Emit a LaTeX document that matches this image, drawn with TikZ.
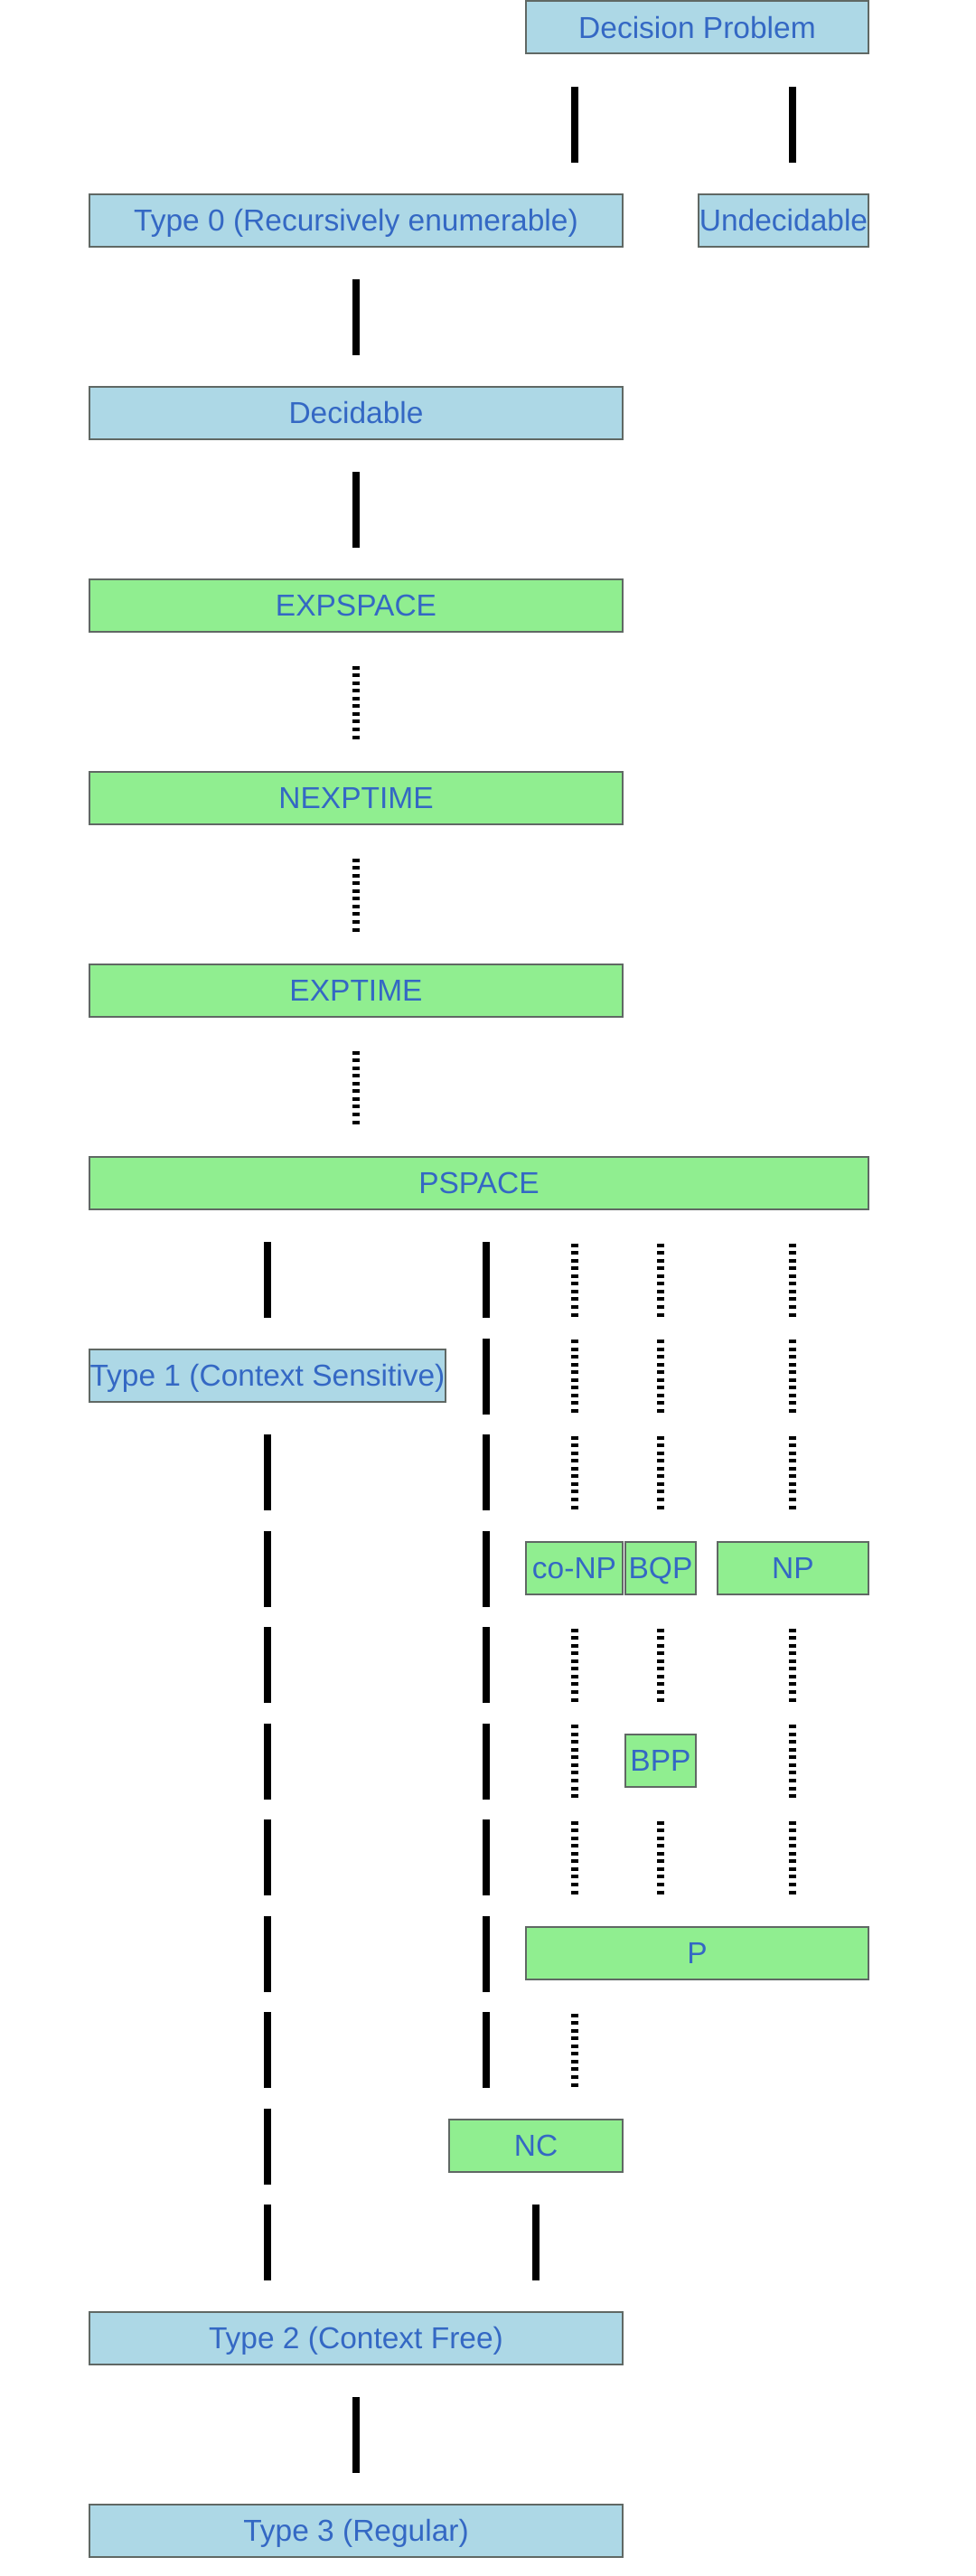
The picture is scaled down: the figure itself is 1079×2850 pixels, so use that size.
\documentclass[tikz,border=0pt]{standalone}
\usepackage{fontspec}
\setmainfont{Liberation Sans}
\definecolor{boxblue}{HTML}{ADD8E6}
\definecolor{boxgreen}{HTML}{90EE90}
\definecolor{edgegray}{RGB}{96,104,100}
\definecolor{txtblue}{RGB}{52,104,196}
\begin{document}
\begin{tikzpicture}[x=1pt,y=-1pt,
  cbox/.style={rectangle, draw=edgegray, line width=2pt, inner sep=0pt, minimum height=58pt, text height=28pt, text depth=4pt, text=txtblue, font=\fontsize{33.5}{40}\selectfont},
  bluebox/.style={cbox, fill=boxblue},
  greenbox/.style={cbox, fill=boxgreen},
  solidedge/.style={line width=8pt, line cap=butt, shorten <=13pt, shorten >=13pt, dash pattern=on 84pt off 22.5pt, dash phase=84pt},
  dottededge/.style={line width=8pt, line cap=butt, shorten <=13pt, shorten >=13pt,
    dash pattern=on 4pt off 4.56pt on 4pt off 4.56pt on 4pt off 4.56pt on 4pt off 4.56pt on 4pt off 4.56pt on 4pt off 4.56pt on 4pt off 4.56pt on 4pt off 4.56pt on 4pt off 4.56pt on 4pt off 25.46pt,
    dash phase=82.5pt}]
\useasboundingbox (0,0) rectangle (1079,2850);

% nodes
\node[bluebox, minimum width=379pt] (dp) at (771.5,30.5) {Decision Problem};
\node[bluebox, minimum width=590pt] (t0) at (394,243.5) {Type 0 (Recursively enumerable)};
\node[bluebox, minimum width=188pt] (und) at (867,243.5) {Undecidable};
\node[bluebox, minimum width=590pt] (dec) at (394,456.5) {Decidable};
\node[greenbox, minimum width=590pt] (exps) at (394,669.5) {EXPSPACE};
\node[greenbox, minimum width=590pt] (nexp) at (394,882.5) {NEXPTIME};
\node[greenbox, minimum width=590pt] (expt) at (394,1095.5) {EXPTIME};
\node[greenbox, minimum width=862pt] (ps) at (530,1308.5) {PSPACE};
\node[bluebox, minimum width=394pt] (t1) at (296,1521.5) {Type 1 (Context Sensitive)};
\node[greenbox, minimum width=107pt] (conp) at (635.5,1734.5) {co-NP};
\node[greenbox, minimum width=78pt] (bqp) at (731,1734.5) {BQP};
\node[greenbox, minimum width=167pt] (np) at (877.5,1734.5) {NP};
\node[greenbox, minimum width=78pt] (bpp) at (731,1947.5) {BPP};
\node[greenbox, minimum width=379pt] (p) at (771.5,2160.5) {P};
\node[greenbox, minimum width=192pt] (nc) at (593,2373.5) {NC};
\node[bluebox, minimum width=590pt] (t2) at (394,2586.5) {Type 2 (Context Free)};
\node[bluebox, minimum width=590pt] (t3) at (394,2799.5) {Type 3 (Regular)};

% columns
\coordinate (cC) at (636,0);
\coordinate (cQ) at (731,0);
\coordinate (cN) at (877,0);
\coordinate (cT) at (296,0);
\coordinate (cM) at (538,0);
\coordinate (cS) at (394,0);
\coordinate (cK) at (593,0);

% connectors
\draw[solidedge] (dp.south -| cC) -- (t0.north -| cC);
\draw[solidedge] (dp.south -| cN) -- (und.north -| cN);
\draw[solidedge] (t0.south -| cS) -- (dec.north -| cS);
\draw[solidedge] (dec.south -| cS) -- (exps.north -| cS);
\draw[dottededge] (exps.south -| cS) -- (nexp.north -| cS);
\draw[dottededge] (nexp.south -| cS) -- (expt.north -| cS);
\draw[dottededge] (expt.south -| cS) -- (ps.north -| cS);
\draw[solidedge] (ps.south -| cT) -- (t1.north -| cT);
\draw[solidedge] (ps.south -| cM) -- (nc.north -| cM);
\draw[dottededge] (ps.south -| cC) -- (conp.north -| cC);
\draw[dottededge] (ps.south -| cQ) -- (bqp.north -| cQ);
\draw[dottededge] (ps.south -| cN) -- (np.north -| cN);
\draw[solidedge] (t1.south -| cT) -- (t2.north -| cT);
\draw[dottededge] (conp.south -| cC) -- (p.north -| cC);
\draw[dottededge] (bqp.south -| cQ) -- (bpp.north -| cQ);
\draw[dottededge] (bpp.south -| cQ) -- (p.north -| cQ);
\draw[dottededge] (np.south -| cN) -- (p.north -| cN);
\draw[dottededge] (p.south -| cC) -- (nc.north -| cC);
\draw[solidedge] (nc.south -| cK) -- (t2.north -| cK);
\draw[solidedge] (t2.south -| cS) -- (t3.north -| cS);
\end{tikzpicture}
\end{document}
